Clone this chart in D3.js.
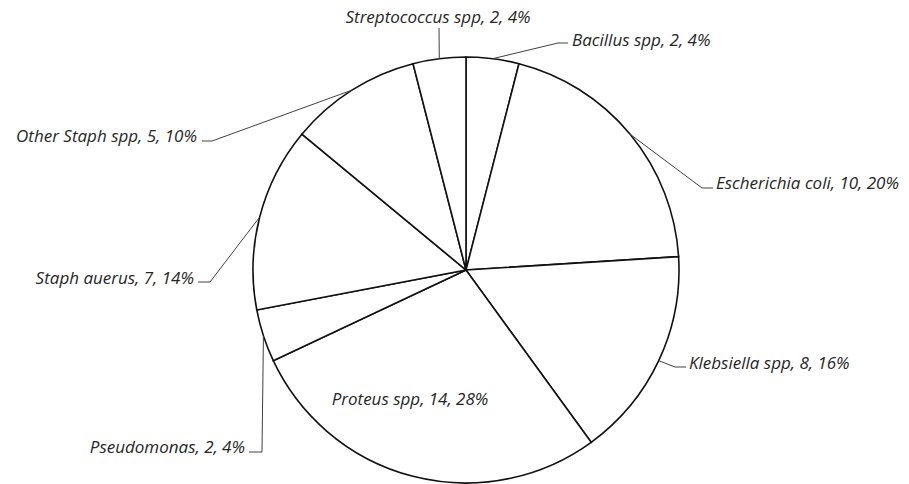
<!DOCTYPE html>
<html>
<head>
<meta charset="utf-8">
<title>pie</title>
<script src="https://d3js.org/d3.v7.min.js"></script>
<style>
  body { margin: 0; background: #fff; }
  text { font-family: "Open Sans", Lato, sans-serif; font-style: italic; fill: #262626; }
</style>
</head>
<body>
<div id="my_dataviz"></div>
<script>

// data
var categories = ["Bacillus spp", "Escherichia coli", "Klebsiella spp", "Proteus spp",
                  "Pseudomonas", "Staph auerus", "Other Staph spp", "Streptococcus spp"];
var counts = [2, 10, 8, 14, 2, 7, 5, 2];
var percents = [4, 20, 16, 28, 4, 14, 10, 4];

// dimensions
var width = 909, height = 484;
var cx = 466, cy = 270, radius = 213;

// where each label sits (x, y, anchor) and the elbow of its leader line
var labelPos = [
  {x: 572, y: 46,  anchor: "start",  elbow: [[558, 43], [568, 43]]},
  {x: 716, y: 189, anchor: "start",  elbow: [[702, 188], [713, 188]]},
  {x: 689, y: 369, anchor: "start",  elbow: [[675, 367], [686, 367]]},
  {x: 410, y: 405, anchor: "middle", inside: true},
  {x: 245, y: 453, anchor: "end",    elbow: [[262, 452], [249, 452]]},
  {x: 194, y: 284, anchor: "end",    elbow: [[210, 282], [198, 282]]},
  {x: 197, y: 142, anchor: "end",    elbow: [[212, 141], [202, 141]]},
  {x: 438, y: 23,  anchor: "middle", elbow: [[439, 28]]}
];

var svg = d3.select("#my_dataviz")
  .append("svg")
    .attr("width", width)
    .attr("height", height);

var g = svg.append("g")
    .attr("transform", "translate(" + cx + "," + cy + ")");

var pie = d3.pie().sort(null).value(function(d) { return d; });
var data_ready = pie(counts);

var arc = d3.arc().innerRadius(0).outerRadius(radius);
var edgeArc = d3.arc().innerRadius(radius).outerRadius(radius);

g.selectAll("path.slice")
  .data(data_ready)
  .enter()
  .append("path")
    .attr("class", "slice")
    .attr("d", arc)
    .attr("fill", "white")
    .attr("stroke", "#111")
    .style("stroke-width", "1.6px");

// labels + leader lines
data_ready.forEach(function(d, i) {
  var p = labelPos[i];
  var label = categories[i] + ", " + counts[i] + ", " + percents[i] + "%";
  if (!p.inside) {
    var e = edgeArc.centroid(d);
    var pts = [[e[0] + cx, e[1] + cy]].concat(p.elbow);
    svg.append("path")
      .attr("d", d3.line()(pts))
      .attr("fill", "none")
      .attr("stroke", "#404040")
      .style("stroke-width", "1px");
  }
  svg.append("text")
    .attr("x", p.x).attr("y", p.y)
    .attr("text-anchor", p.anchor)
    .style("font-size", "17px")
    .text(label);
});

</script>
</body>
</html>
